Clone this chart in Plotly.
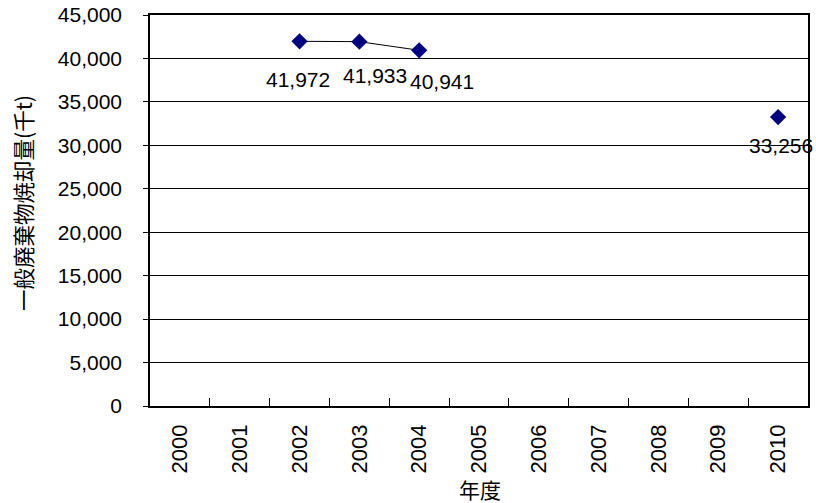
import plotly.graph_objects as go

# 一般廃棄物の焼却量（千t）、年度別
years = ["2000", "2001", "2002", "2003", "2004", "2005",
         "2006", "2007", "2008", "2009", "2010"]
incineration = [None, None, 41972, 41933, 40941, None,
                None, None, None, None, 33256]
y_ticks = [0, 5000, 10000, 15000, 20000, 25000, 30000, 35000, 40000, 45000]

# pixel nudges for the value labels so neighbours do not collide
label_nudge = {2: (-2, -38), 3: (16, -34), 4: (23, -31), 10: (3, -28)}

latin = "Liberation Sans, Arial, sans-serif"
cjk = "Noto Sans CJK JP, sans-serif"

fig = go.Figure()
fig.add_trace(go.Scatter(
    x=years, y=incineration,
    mode="lines+markers",
    connectgaps=False,
    line=dict(color="#000000", width=1),
    marker=dict(symbol="diamond", size=12.5, color="#000080",
                line=dict(color="#000080", width=0)),
    showlegend=False,
    hoverinfo="x+y",
    cliponaxis=False,
))

# value labels under each marker
for i, v in enumerate(incineration):
    if v is None:
        continue
    dx, dy = label_nudge.get(i, (0, -34))
    fig.add_annotation(
        x=i, y=v, xref="x", yref="y",
        text=f"{v:,}", showarrow=False,
        xshift=dx, yshift=dy,
        font=dict(family=latin, size=21, color="#000000"),
    )

fig.add_annotation(
    x=0.5015, y=-0.212, xref="paper", yref="paper",
    xanchor="center", yanchor="middle",
    text="年度", showarrow=False,
    font=dict(family=cjk, size=21, color="#000000"),
)
fig.add_annotation(
    x=-0.1945, y=0.519, xref="paper", yref="paper",
    xanchor="center", yanchor="middle", textangle=-90,
    text="一般廃棄物焼却量(千t)", showarrow=False,
    font=dict(family=cjk, size=21.5, color="#000000"),
)

fig.update_xaxes(
    type="category",
    categoryorder="array", categoryarray=years,
    range=[-0.5, len(years) - 0.5],
    tickson="boundaries",
    ticks="inside", ticklen=8, tickcolor="#000000", tickwidth=1,
    tickangle=-90,
    ticklabelstandoff=8,
    tickfont=dict(family=latin, size=22, color="#000000"),
    showline=True, linecolor="#000000", linewidth=1.5, mirror=True,
    showgrid=False, zeroline=False,
    automargin=False,
)
fig.update_yaxes(
    range=[0, 45000],
    tickvals=y_ticks, tickformat=",d",
    ticks="outside", ticklen=5, tickcolor="#000000", tickwidth=1,
    ticklabelstandoff=17,
    tickfont=dict(family=latin, size=21, color="#000000"),
    showline=True, linecolor="#000000", linewidth=1.5, mirror=True,
    showgrid=True, gridcolor="#000000", gridwidth=1,
    zeroline=False,
    automargin=False,
)

fig.update_layout(
    width=816, height=503,
    margin=dict(l=150, r=8, t=15, b=97),
    paper_bgcolor="#ffffff", plot_bgcolor="#ffffff",
)

fig.write_html("out.html")
